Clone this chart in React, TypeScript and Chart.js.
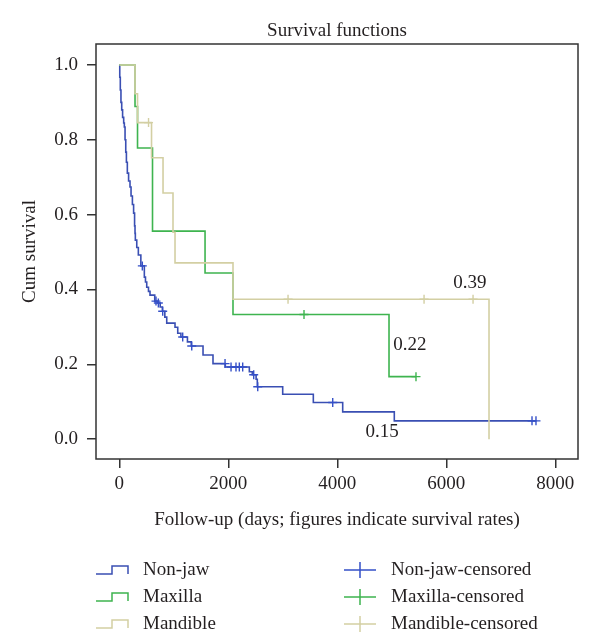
import React, { useEffect, useRef } from 'react';
import { Chart, registerables } from 'chart.js';

Chart.register(...registerables);

const TITLE = 'Survival functions';
const X_TITLE = 'Follow-up (days; figures indicate survival rates)';
const Y_TITLE = 'Cum survival';
const X_TICKS = [0, 2000, 4000, 6000, 8000];
const Y_TICKS = [0, 0.2, 0.4, 0.6, 0.8, 1.0];

const SERIES_NAMES = ['Non-jaw', 'Maxilla', 'Mandible'];
const CENSOR_NAMES = ['Non-jaw-censored', 'Maxilla-censored', 'Mandible-censored'];
const LINE_COLORS = ['#3a4fb3', '#3eb44f', '#d3cfa3'];
const CENSOR_COLORS = ['#3550c8', '#3eb44f', '#d3cfa3'];

// Non-jaw: event times (days) and survival after each event
const nonJawDays = [0, 8, 18, 30, 44, 60, 80, 92, 105, 118, 130, 147, 170, 196, 215, 240, 262, 280, 288, 294, 320, 349, 395, 459, 480, 503, 535, 563, 650, 700, 750, 790, 835, 870, 1022, 1072, 1130, 1250, 1320, 1536, 1719, 1945, 2386, 2440, 2510, 2532, 2998, 3560, 4099, 5046, 7646];
const nonJawSurv = [1.0, 0.967, 0.933, 0.9, 0.88, 0.86, 0.845, 0.834, 0.8, 0.767, 0.74, 0.711, 0.69, 0.674, 0.65, 0.627, 0.604, 0.57, 0.55, 0.532, 0.512, 0.492, 0.463, 0.433, 0.42, 0.406, 0.395, 0.385, 0.369, 0.364, 0.353, 0.342, 0.326, 0.31, 0.299, 0.283, 0.273, 0.26, 0.249, 0.225, 0.202, 0.193, 0.18, 0.172, 0.16, 0.14, 0.12, 0.098, 0.073, 0.049, 0.049];
const nonJawCensorDays = [422, 673, 716, 796, 1163, 1329, 1940, 2050, 2141, 2202, 2264, 2466, 2540, 3916, 7573, 7646];
const nonJawCensorSurv = [0.463, 0.369, 0.364, 0.342, 0.273, 0.249, 0.202, 0.193, 0.193, 0.193, 0.193, 0.172, 0.14, 0.098, 0.049, 0.049];

// Maxilla
const maxillaDays = [0, 288, 334, 609, 1573, 2086, 4949, 5444];
const maxillaSurv = [1.0, 0.889, 0.778, 0.556, 0.444, 0.333, 0.167, 0.167];
const maxillaCensorDays = [3389, 5444];
const maxillaCensorSurv = [0.333, 0.167];

// Mandible
const mandibleDays = [0, 288, 334, 591, 802, 985, 1022, 2086, 6784];
const mandibleSurv = [1.0, 0.923, 0.846, 0.752, 0.658, 0.553, 0.471, 0.374, 0.0];
const mandibleCensorDays = [536, 3096, 5592, 6491];
const mandibleCensorSurv = [0.846, 0.374, 0.374, 0.374];

// Survival-rate annotations
const rateLabels = ['0.39', '0.22', '0.15'];
const rateLabelDays = [6435, 5334, 4821];
const rateLabelSurv = [0.416, 0.251, 0.019];

const FONT = 'Liberation Serif';
const TEXT = '#231f20';

const zip = (xs: number[], ys: number[]) => xs.map((x, i) => ({ x, y: ys[i] }));

const extrasPlugin = {
  id: 'extras',
  afterDatasetsDraw(chart: any) {
    const { ctx, scales } = chart;
    ctx.save();
    ctx.font = `19px "${FONT}"`;
    ctx.fillStyle = TEXT;
    ctx.textAlign = 'center';
    ctx.textBaseline = 'middle';
    rateLabels.forEach((t, i) => {
      ctx.fillText(t, scales.x.getPixelForValue(rateLabelDays[i]), scales.y.getPixelForValue(rateLabelSurv[i]));
    });
    ctx.restore();
  },
  afterDraw(chart: any) {
    const { ctx, chartArea } = chart;
    const { left, top, right, bottom } = chartArea;
    ctx.save();
    ctx.strokeStyle = '#333';
    ctx.lineWidth = 1.5;
    ctx.strokeRect(left, top, right - left, bottom - top);

    // title
    ctx.font = `19px "${FONT}"`;
    ctx.fillStyle = TEXT;
    ctx.textAlign = 'center';
    ctx.textBaseline = 'middle';
    ctx.fillText(TITLE, (left + right) / 2, top - 13);

    // legend
    const rowY = (i: number) => bottom + 111 + i * 27;
    ctx.textAlign = 'left';
    SERIES_NAMES.forEach((name, i) => {
      const y = rowY(i);
      const x0 = left;
      ctx.strokeStyle = LINE_COLORS[i];
      ctx.lineWidth = 1.5;
      ctx.beginPath();
      ctx.moveTo(x0, y + 4);
      ctx.lineTo(x0 + 16, y + 4);
      ctx.lineTo(x0 + 16, y - 4);
      ctx.lineTo(x0 + 32, y - 4);
      ctx.lineTo(x0 + 32, y + 4);
      ctx.stroke();
      ctx.fillStyle = TEXT;
      ctx.fillText(name, x0 + 47, y);
    });
    CENSOR_NAMES.forEach((name, i) => {
      const y = rowY(i);
      const x0 = left + 248;
      ctx.strokeStyle = CENSOR_COLORS[i];
      ctx.lineWidth = 1.5;
      ctx.beginPath();
      ctx.moveTo(x0, y);
      ctx.lineTo(x0 + 32, y);
      ctx.moveTo(x0 + 16, y - 8);
      ctx.lineTo(x0 + 16, y + 8);
      ctx.stroke();
      ctx.fillStyle = TEXT;
      ctx.fillText(name, x0 + 47, y);
    });
    ctx.restore();
  },
};

export default function App() {
  const ref = useRef<HTMLCanvasElement | null>(null);

  useEffect(() => {
    if (!ref.current) return;
    const lineSets = [
      zip(nonJawDays, nonJawSurv),
      zip(maxillaDays, maxillaSurv),
      zip(mandibleDays, mandibleSurv),
    ];
    const censorSets = [
      zip(nonJawCensorDays, nonJawCensorSurv),
      zip(maxillaCensorDays, maxillaCensorSurv),
      zip(mandibleCensorDays, mandibleCensorSurv),
    ];
    const lineOrder = [2, 1, 0];
    const datasets: any[] = [];
    SERIES_NAMES.forEach((name, i) => {
      datasets.push({
        label: name,
        data: lineSets[i],
        borderColor: LINE_COLORS[i],
        borderWidth: 1.6,
        stepped: 'before',
        pointRadius: 0,
        fill: false,
        order: lineOrder[i],
      });
    });
    CENSOR_NAMES.forEach((name, i) => {
      datasets.push({
        label: name,
        data: censorSets[i],
        showLine: false,
        pointStyle: 'cross',
        pointRadius: 4.5,
        pointBorderColor: CENSOR_COLORS[i],
        pointBorderWidth: 1.4,
        borderColor: CENSOR_COLORS[i],
        order: -1,
      });
    });

    const chart = new Chart(ref.current, {
      type: 'line',
      data: { datasets },
      plugins: [extrasPlugin],
      options: {
        animation: false,
        responsive: false,
        devicePixelRatio: 1,
        layout: { padding: { left: 0, right: 22, top: 44, bottom: 107 } },
        plugins: {
          legend: { display: false },
          tooltip: { enabled: false },
          title: { display: false },
        },
        scales: {
          x: {
            type: 'linear',
            min: -428,
            max: 8417,
            afterFit: (s: any) => { s.height = 72; },
            afterBuildTicks: (s: any) => { s.ticks = X_TICKS.map((value) => ({ value })); },
            border: { display: false },
            grid: { display: true, drawOnChartArea: false, drawTicks: true, tickLength: 9, color: '#333', lineWidth: 1.5 },
            ticks: {
              autoSkip: false,
              maxRotation: 0,
              padding: 5,
              color: TEXT,
              font: { family: FONT, size: 19 },
              callback: (v: any) => String(v),
            },
            title: {
              display: true,
              text: X_TITLE,
              color: TEXT,
              font: { family: FONT, size: 19 },
              padding: { top: 0, bottom: 0 },
            },
          },
          y: {
            type: 'linear',
            min: -0.053,
            max: 1.056,
            afterFit: (s: any) => { s.width = 96; },
            afterBuildTicks: (s: any) => { s.ticks = Y_TICKS.map((value) => ({ value })); },
            border: { display: false },
            grid: { display: true, drawOnChartArea: false, drawTicks: true, tickLength: 9, color: '#333', lineWidth: 1.5 },
            ticks: {
              autoSkip: false,
              padding: 9,
              color: TEXT,
              font: { family: FONT, size: 19 },
              callback: (v: any) => Number(v).toFixed(1),
            },
            title: {
              display: true,
              text: Y_TITLE,
              color: TEXT,
              font: { family: FONT, size: 19 },
              padding: { top: 19, bottom: 0 },
            },
          },
        },
      } as any,
    });
    return () => chart.destroy();
  }, []);

  return (
    <div style={{ position: 'fixed', left: 0, top: 0, width: 600, height: 638, background: '#fff' }}>
      <canvas ref={ref} width={600} height={638} />
    </div>
  );
}
